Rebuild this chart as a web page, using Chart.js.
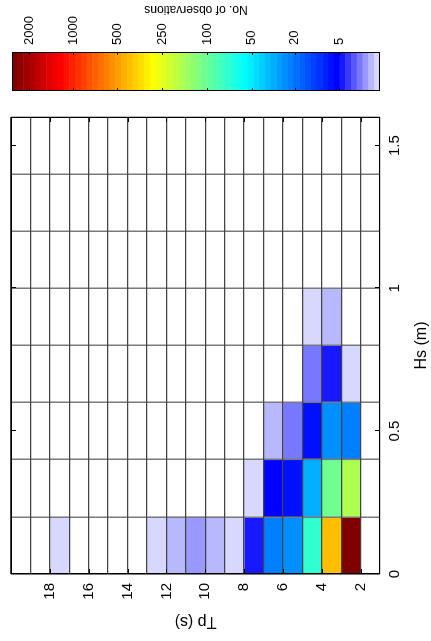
<!DOCTYPE html>
<html>
<head>
<meta charset="utf-8">
<title>Hs - Tp scatter</title>
<script src="https://cdn.jsdelivr.net/npm/chart.js@4.4.1/dist/chart.umd.min.js"></script>
<style>
    html, body { margin: 0; padding: 0; background: #fff; overflow: hidden; }
    /* the figure is laid out upright and turned a quarter turn anticlockwise */
    #figure {
        position: absolute; left: 0; top: 0;
        width: 641px; height: 431px;
        transform-origin: 0 0;
        transform: translate(0, 641px) rotate(-90deg);
    }
    #mainChart { position: absolute; left: 0; top: 0; }
    #colorbar { position: absolute; left: 545px; top: 0; }
</style>
</head>
<body>
<div id="figure">
    <canvas id="mainChart" width="545" height="431"></canvas>
    <canvas id="colorbar" width="96" height="431"></canvas>
</div>
<script>
// Hs bin edges (m) and labelled Hs ticks
const hsEdges = [0, 0.2, 0.4, 0.6, 0.8, 1.0, 1.2, 1.4, 1.6];
const hsTicks = [0, 0.5, 1, 1.5];
const hsTickLabels = ['0', '0.5', '1', '1.5'];

// Tp bin edges (s) and labelled Tp ticks
const tpEdges = [1, 2, 3, 4, 5, 6, 7, 8, 9, 10, 11, 12, 13, 14, 15, 16, 17, 18, 19, 20];
const tpTicks = [2, 4, 6, 8, 10, 12, 14, 16, 18];

// No. of observations per Tp bin (1-2 s, 2-3 s, ...), one list per Hs bin, null = empty
const obsHs00 = [null, 2330, 430, 77, 27, 23, 4.65, 1, 2, 2.4, 2, 1, null, null, null, null, 1];
const obsHs02 = [null, 185, 108, 35, 8, 6, 1];
const obsHs04 = [null, 23, 27, 8, 3, 2];
const obsHs06 = [null, 1, 4.65, 3];
const obsHs08 = [null, null, 2, 1];

// colour bar: tick counts and where they sit on the 64 colour steps
const cbarTickValues = [5, 20, 50, 100, 250, 500, 1000, 2000];
const cbarTickLevels = [7.13, 14.8, 22.3, 30.1, 37.9, 45.7, 53.4, 61.0];

Chart.defaults.font.family = '"Liberation Sans", Arial, Helvetica, sans-serif';
Chart.defaults.color = '#000';

// 7 pale blue steps below 5 obs, then the top 57 steps of matlab jet(64)
function stepColour(k) {
    if (k < 7) {
        const v = 216 - 32 * k;
        return `rgb(${v}, ${v}, 255)`;
    }
    const ch = (a, b) => Math.round(255 * Math.min(1, Math.max(0, Math.min(a, b))));
    return `rgb(${ch((k - 23) / 16, (71 - k) / 16)}, ${ch((k - 7) / 16, (55 - k) / 16)}, ${ch((k + 9) / 16, (39 - k) / 16)})`;
}
const colourSteps = [];
for (let k = 0; k < 64; k++) colourSteps.push(stepColour(k));

// count -> position on the colour bar, straight lines between the bar ticks
function levelFor(n) {
    const vals = [1, ...cbarTickValues];
    const lvls = [0, ...cbarTickLevels];
    let i = 1;
    while (i < vals.length - 1 && n > vals[i]) i++;
    const t = (n - vals[i - 1]) / (vals[i] - vals[i - 1]);
    return lvls[i - 1] + t * (lvls[i] - lvls[i - 1]);
}

function cellColour(n) {
    const k = Math.min(63, Math.max(0, Math.floor(levelFor(n))));
    return colourSteps[k];
}

// each cell is a floating bar: x = Hs bin centre, y = [Tp low, Tp high]
const cells = [];
[obsHs00, obsHs02, obsHs04, obsHs06, obsHs08].forEach((row, r) => {
    row.forEach((n, t) => {
        if (n === null) return;
        cells.push({ x: (hsEdges[r] + hsEdges[r + 1]) / 2, y: [tpEdges[t], tpEdges[t + 1]], n: n });
    });
});

// pin axis sizes and drop the label overhang padding so the plot box stays put
function fixSize(prop, size) {
    return s => {
        s[prop] = size;
        s.paddingTop = s.paddingBottom = s.paddingLeft = s.paddingRight = 0;
    };
}

// black box with short inward tick marks, like the matlab axes
const boxTicks = {
    id: 'boxTicks',
    afterDraw(chart, args, opts) {
        const { ctx, chartArea: a } = chart;
        const len = opts.length || 4;
        ctx.save();
        ctx.strokeStyle = '#000';
        ctx.lineWidth = 1;
        ctx.beginPath();
        (opts.xTicks || []).forEach(v => {
            const px = Math.round(chart.scales.x.getPixelForValue(v)) + 0.5;
            ctx.moveTo(px, a.top); ctx.lineTo(px, a.top + len);
            ctx.moveTo(px, a.bottom); ctx.lineTo(px, a.bottom - len);
        });
        (opts.yTicks || []).forEach(v => {
            const py = Math.round(chart.scales.y.getPixelForValue(v)) + 0.5;
            ctx.moveTo(a.left, py); ctx.lineTo(a.left + len, py);
            ctx.moveTo(a.right, py); ctx.lineTo(a.right - len, py);
        });
        ctx.stroke();
        ctx.strokeRect(Math.round(a.left) + 0.5, Math.round(a.top) + 0.5,
            Math.round(a.right - a.left) - 1, Math.round(a.bottom - a.top) - 1);
        ctx.restore();
    }
};

new Chart(document.getElementById('mainChart'), {
    type: 'bar',
    data: {
        datasets: [{
            data: cells,
            xAxisID: 'x',
            yAxisID: 'y',
            backgroundColor: cells.map(c => cellColour(c.n)),
            borderWidth: 0,
            barPercentage: 1,
            categoryPercentage: 1
        }]
    },
    options: {
        responsive: false,
        animation: false,
        events: [],
        layout: { autoPadding: false, padding: { top: 11, right: 21, bottom: 0, left: 0 } },
        plugins: {
            legend: { display: false },
            tooltip: { enabled: false },
            boxTicks: { xTicks: hsTicks, yTicks: tpTicks, length: 5 }
        },
        scales: {
            x: {
                type: 'linear',
                position: 'bottom',
                min: 0,
                max: 1.6,
                offset: false,
                afterBuildTicks: s => { s.ticks = hsTicks.map(v => ({ value: v })); },
                afterFit: fixSize('height', 51),
                grid: { display: false, drawTicks: false, offset: false },
                border: { display: false },
                ticks: {
                    font: { size: 15 },
                    padding: 6,
                    maxRotation: 0,
                    autoSkip: false,
                    callback: v => hsTickLabels[hsTicks.indexOf(v)]
                },
                title: { display: true, text: 'Hs (m)', font: { size: 16 }, padding: { top: 0, bottom: 0 } }
            },
            xGrid: {
                type: 'linear',
                axis: 'x',
                position: 'bottom',
                min: 0,
                max: 1.6,
                offset: false,
                afterBuildTicks: s => { s.ticks = hsEdges.map(v => ({ value: v })); },
                afterFit: fixSize('height', 0),
                grid: { color: '#7a7a7a', lineWidth: 1.5, drawTicks: false, offset: false, z: 1 },
                border: { display: false },
                ticks: { display: false }
            },
            y: {
                type: 'linear',
                position: 'left',
                min: 1,
                max: 20,
                beginAtZero: false,
                afterBuildTicks: s => { s.ticks = tpEdges.map(v => ({ value: v })); },
                afterFit: fixSize('width', 67),
                grid: { color: '#444', lineWidth: 1.3, drawTicks: false, z: 1 },
                border: { display: false },
                ticks: {
                    font: { size: 15 },
                    padding: 9,
                    autoSkip: false,
                    callback: v => tpTicks.includes(v) ? String(v) : ''
                },
                title: { display: true, text: 'Tp (s)', font: { size: 16 }, padding: { top: 10, bottom: 0 } }
            }
        }
    },
    plugins: [boxTicks]
});

// colour bar title reads bottom to top, so it is drawn here instead of as an axis title
const cbarTitle = {
    id: 'cbarTitle',
    afterDraw(chart) {
        const { ctx, chartArea: a } = chart;
        ctx.save();
        ctx.translate(87, (a.top + a.bottom) / 2);
        ctx.rotate(-Math.PI / 2);
        ctx.font = '12px "Liberation Sans", Arial, sans-serif';
        ctx.fillStyle = '#000';
        ctx.textAlign = 'center';
        ctx.textBaseline = 'middle';
        ctx.fillText('No. of observations', 0, 0);
        ctx.restore();
    }
};

new Chart(document.getElementById('colorbar'), {
    type: 'bar',
    data: {
        labels: [''],
        datasets: colourSteps.map((c, k) => ({
            data: [[k, k + 1]],
            backgroundColor: c,
            borderWidth: 0,
            grouped: false,
            barPercentage: 1,
            categoryPercentage: 1
        }))
    },
    options: {
        responsive: false,
        animation: false,
        events: [],
        layout: { autoPadding: false, padding: { top: 12, right: 0, bottom: 51, left: 5 } },
        plugins: {
            legend: { display: false },
            tooltip: { enabled: false },
            boxTicks: { yTicks: cbarTickLevels, length: 3 }
        },
        scales: {
            x: { display: false },
            y: {
                type: 'linear',
                position: 'right',
                min: 0,
                max: 64,
                afterBuildTicks: s => { s.ticks = cbarTickLevels.map(v => ({ value: v })); },
                afterFit: fixSize('width', 52),
                grid: { display: false, drawTicks: false },
                border: { display: false },
                ticks: {
                    font: { size: 13 },
                    padding: 7,
                    autoSkip: false,
                    callback: (v, i) => String(cbarTickValues[i])
                }
            }
        }
    },
    plugins: [boxTicks, cbarTitle]
});
</script>
</body>
</html>
